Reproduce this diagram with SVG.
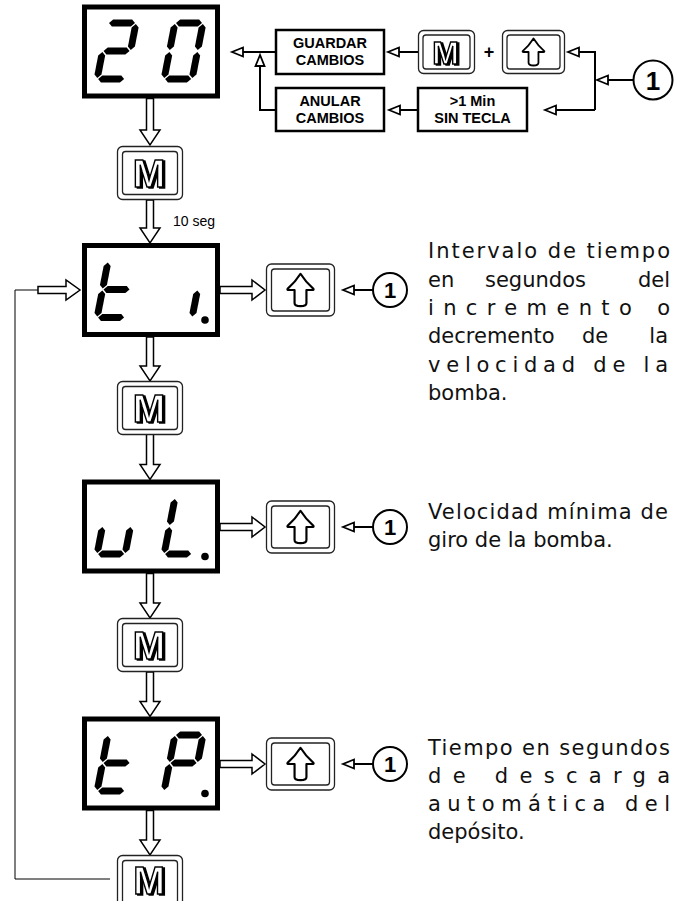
<svg xmlns="http://www.w3.org/2000/svg" xmlns:xlink="http://www.w3.org/1999/xlink" width="685" height="901" viewBox="0 0 685 901">
<style>
.disp{fill:#fff;stroke:#000;stroke-width:5}
.seg{fill:#000}
.harrow{fill:#fff;stroke:#000;stroke-width:1.5;stroke-linejoin:miter}
.bo{fill:#fff;stroke:#222;stroke-width:1.3}
.bi{fill:none;stroke:#222;stroke-width:1.3}
.mk{font-family:"Liberation Sans",Arial,sans-serif;font-weight:bold;fill:#fff;stroke:#000;stroke-width:1.4;text-anchor:middle}
.ua{fill:#fff;stroke:#000;stroke-width:2;stroke-linejoin:round}
.box{fill:#fff;stroke:#000;stroke-width:2.5}
.bt{font-family:"Liberation Sans",Arial,sans-serif;font-weight:bold;font-size:14.5px;text-anchor:middle;fill:#000}
.con{fill:none;stroke:#000;stroke-width:2}
.thin{fill:none;stroke:#000;stroke-width:1}
.circ{fill:#fff;stroke:#000;stroke-width:2}
.one{font-family:"Liberation Sans",Arial,sans-serif;font-weight:bold;text-anchor:middle;fill:#000}
.desc{font-family:"DejaVu Sans","Liberation Sans",sans-serif;font-size:21px;fill:#111}
.small{font-family:"Liberation Sans",Arial,sans-serif;font-size:14px;fill:#000}
</style>
<defs>
<polygon id="sh" points="1,0 4.5,-3.5 23.5,-3.5 27,0 23.5,3.5 4.5,3.5"/>
<polygon id="sv" points="0,1 3.5,4.5 3.5,23.5 0,27 -3.5,23.5 -3.5,4.5"/>
<path id="up" d="M0,-15 Q5,-7 12,-1 Q12.5,0 11,0 L5.5,0 L5.5,12 Q5.5,15 0,15 Q-5.5,15 -5.5,12 L-5.5,0 L-11,0 Q-12.5,0 -12,-1 Q-5,-7 0,-15 Z"/>
<filter id="emb" x="-20%" y="-20%" width="150%" height="150%">
<feOffset in="SourceAlpha" dx="2.4" dy="0.6" result="o"/>
<feMerge><feMergeNode in="o"/><feMergeNode in="SourceGraphic"/></feMerge>
</filter>
<marker id="ah" markerUnits="userSpaceOnUse" markerWidth="16" markerHeight="14" refX="13" refY="7" orient="auto" overflow="visible">
<path d="M13,7 L2,2.5 L2,11.5 Z" fill="#fff" stroke="#000" stroke-width="1.8"/>
</marker>
</defs>

<g id="connectors">
<path class="harrow" d="M146.5,98.5 L153.5,98.5 L153.5,130 L160,130 L150,145 L140,130 L146.5,130 Z"/>
<path class="harrow" d="M146.5,200 L153.5,200 L153.5,228 L160,228 L150,243 L140,228 L146.5,228 Z"/>
<path class="harrow" d="M146.5,337 L153.5,337 L153.5,366 L160,366 L150,381 L140,366 L146.5,366 Z"/>
<path class="harrow" d="M146.5,434 L153.5,434 L153.5,464.5 L160,464.5 L150,479.5 L140,464.5 L146.5,464.5 Z"/>
<path class="harrow" d="M146.5,573.5 L153.5,573.5 L153.5,603 L160,603 L150,618 L140,603 L146.5,603 Z"/>
<path class="harrow" d="M146.5,672 L153.5,672 L153.5,701.5 L160,701.5 L150,716.5 L140,701.5 L146.5,701.5 Z"/>
<path class="harrow" d="M146.5,810.5 L153.5,810.5 L153.5,840 L160,840 L150,855 L140,840 L146.5,840 Z"/>
<path class="harrow" d="M220,286.5 L252,286.5 L252,280 L265,290 L252,300 L252,293.5 L220,293.5 Z"/>
<path class="harrow" d="M220,523.5 L252,523.5 L252,517 L265,527 L252,537 L252,530.5 L220,530.5 Z"/>
<path class="harrow" d="M220,760.5 L252,760.5 L252,754 L265,764 L252,774 L252,767.5 L220,767.5 Z"/>
<polyline class="thin" points="110,879 15,879 15,290 38,290"/>
<path class="harrow" d="M38,286.5 L66,286.5 L66,280 L80,290 L66,300 L66,293.5 L38,293.5 Z"/>
<line class="con" x1="373" y1="290" x2="343" y2="290" marker-end="url(#ah)"/>
<line class="con" x1="373" y1="527" x2="343" y2="527" marker-end="url(#ah)"/>
<line class="con" x1="373" y1="764" x2="343" y2="764" marker-end="url(#ah)"/>
<line class="con" x1="275" y1="52" x2="232" y2="52" marker-end="url(#ah)"/>
<polyline class="con" points="275,110 260,110 260,55" marker-end="url(#ah)"/>
<line class="con" x1="418" y1="52" x2="388" y2="52" marker-end="url(#ah)"/>
<line class="con" x1="418" y1="110" x2="389" y2="110" marker-end="url(#ah)"/>
<polyline class="con" points="595,110 595,52 568,52" marker-end="url(#ah)"/>
<line class="con" x1="595" y1="110" x2="545" y2="110" marker-end="url(#ah)"/>
<line class="con" x1="633" y1="80" x2="597" y2="80" marker-end="url(#ah)"/>
</g>

<g id="display-20">
<rect class="disp" x="84.5" y="7" width="133" height="89"/>
<g class="seg" transform="translate(108,23) skewX(-11)">
<use xlink:href="#sh" x="0" y="0"/><use xlink:href="#sv" x="28" y="0"/><use xlink:href="#sh" x="0" y="28"/><use xlink:href="#sv" x="0" y="28"/><use xlink:href="#sh" x="0" y="56"/>
</g>
<g class="seg" transform="translate(175,23) skewX(-11)">
<use xlink:href="#sh" x="0" y="0"/><use xlink:href="#sv" x="28" y="0"/><use xlink:href="#sv" x="28" y="28"/><use xlink:href="#sh" x="0" y="56"/><use xlink:href="#sv" x="0" y="28"/><use xlink:href="#sv" x="0" y="0"/>
</g>
</g>

<g id="display-ti">
<rect class="disp" x="84.5" y="245.5" width="133" height="89"/>
<g class="seg" transform="translate(108,261.5) skewX(-11)">
<use xlink:href="#sv" x="0" y="0"/><use xlink:href="#sv" x="0" y="28"/><use xlink:href="#sh" x="0" y="28"/><use xlink:href="#sh" x="0" y="56"/>
</g>
<g class="seg" transform="translate(175,261.5) skewX(-11)">
<use xlink:href="#sv" x="28" y="28"/>
</g>
<circle class="seg" cx="205" cy="320" r="3.8"/>
</g>

<g id="display-uL">
<rect class="disp" x="84.5" y="482" width="133" height="89"/>
<g class="seg" transform="translate(108,498) skewX(-11)">
<use xlink:href="#sv" x="0" y="28"/><use xlink:href="#sh" x="0" y="56"/><use xlink:href="#sv" x="28" y="28"/>
</g>
<g class="seg" transform="translate(175,498) skewX(-11)">
<use xlink:href="#sv" x="0" y="0"/><use xlink:href="#sv" x="0" y="28"/><use xlink:href="#sh" x="0" y="56"/>
</g>
<circle class="seg" cx="205" cy="556.5" r="3.8"/>
</g>

<g id="display-tP">
<rect class="disp" x="84.5" y="719" width="133" height="89"/>
<g class="seg" transform="translate(108,735) skewX(-11)">
<use xlink:href="#sv" x="0" y="0"/><use xlink:href="#sv" x="0" y="28"/><use xlink:href="#sh" x="0" y="28"/><use xlink:href="#sh" x="0" y="56"/>
</g>
<g class="seg" transform="translate(175,735) skewX(-11)">
<use xlink:href="#sh" x="0" y="0"/><use xlink:href="#sv" x="28" y="0"/><use xlink:href="#sh" x="0" y="28"/><use xlink:href="#sv" x="0" y="0"/><use xlink:href="#sv" x="0" y="28"/>
</g>
<circle class="seg" cx="205" cy="793.5" r="3.8"/>
</g>

<g id="m-button-1">
<rect class="bo" x="117.5" y="146.5" width="65" height="53" rx="5"/>
<rect class="bi" x="122.5" y="151.5" width="55" height="43" rx="3"/>
<text class="mk" x="149" y="187" font-size="39" filter="url(#emb)">M</text>
</g>
<g id="m-button-2">
<rect class="bo" x="117.5" y="381.5" width="65" height="53" rx="5"/>
<rect class="bi" x="122.5" y="386.5" width="55" height="43" rx="3"/>
<text class="mk" x="149" y="422" font-size="39" filter="url(#emb)">M</text>
</g>
<g id="m-button-3">
<rect class="bo" x="117.5" y="618.5" width="65" height="53" rx="5"/>
<rect class="bi" x="122.5" y="623.5" width="55" height="43" rx="3"/>
<text class="mk" x="149" y="659" font-size="39" filter="url(#emb)">M</text>
</g>
<g id="m-button-4">
<rect class="bo" x="117.5" y="855.5" width="65" height="53" rx="5"/>
<rect class="bi" x="122.5" y="860.5" width="55" height="43" rx="3"/>
<text class="mk" x="149" y="894" font-size="38" filter="url(#emb)">M</text>
</g>

<g id="up-button-1">
<rect class="bo" x="266.5" y="264" width="68" height="52" rx="5"/>
<rect class="bi" x="271.5" y="269" width="58" height="42" rx="3"/>
<use class="ua" xlink:href="#up" transform="translate(300.5,290) scale(1.08)"/>
</g>
<g id="up-button-2">
<rect class="bo" x="266.5" y="501" width="68" height="52" rx="5"/>
<rect class="bi" x="271.5" y="506" width="58" height="42" rx="3"/>
<use class="ua" xlink:href="#up" transform="translate(300.5,527) scale(1.08)"/>
</g>
<g id="up-button-3">
<rect class="bo" x="266.5" y="738" width="68" height="52" rx="5"/>
<rect class="bi" x="271.5" y="743" width="58" height="42" rx="3"/>
<use class="ua" xlink:href="#up" transform="translate(300.5,764) scale(1.08)"/>
</g>

<g id="circle-1a"><circle class="circ" cx="390" cy="290" r="17"/><text class="one" x="390" y="298" font-size="22">1</text></g>
<g id="circle-1b"><circle class="circ" cx="390" cy="527" r="17"/><text class="one" x="390" y="535" font-size="22">1</text></g>
<g id="circle-1c"><circle class="circ" cx="390" cy="764" r="17"/><text class="one" x="390" y="772" font-size="22">1</text></g>
<g id="circle-1top"><circle class="circ" cx="653" cy="80" r="19.5"/><text class="one" x="653" y="89.5" font-size="26">1</text></g>

<g id="guardar">
<rect class="box" x="276" y="30" width="108" height="44"/>
<text class="bt" x="330" y="48">GUARDAR</text>
<text class="bt" x="330" y="65">CAMBIOS</text>
</g>
<g id="anular">
<rect class="box" x="276" y="88" width="108" height="43"/>
<text class="bt" x="330" y="106">ANULAR</text>
<text class="bt" x="330" y="123">CAMBIOS</text>
</g>
<g id="sin-tecla">
<rect class="box" x="418" y="88" width="109" height="43"/>
<text class="bt" x="472.5" y="106">&gt;1 Min</text>
<text class="bt" x="472.5" y="123">SIN TECLA</text>
</g>
<g id="m-button-top">
<rect class="bo" x="418.5" y="30.5" width="56" height="43" rx="5"/>
<rect class="bi" x="423" y="35" width="47" height="34" rx="3"/>
<text class="mk" x="445.5" y="64" font-size="32" filter="url(#emb)">M</text>
</g>
<text id="plus" class="one" x="489" y="58" font-size="18">+</text>
<g id="up-button-top">
<rect class="bo" x="502.5" y="30.5" width="62" height="43" rx="5"/>
<rect class="bi" x="507" y="35" width="53" height="34" rx="3"/>
<use class="ua" xlink:href="#up" transform="translate(533.5,52) scale(0.9)"/>
</g>

<text id="ten-seg" class="small" x="173" y="226">10 seg</text>

<g id="desc-1" class="desc">
<text x="428" y="258" textLength="242" lengthAdjust="spacing">Intervalo de tiempo</text>
<text x="428" y="287">en</text><text x="485" y="287">segundos</text><text x="670" y="287" text-anchor="end">del</text>
<text x="428" y="315" textLength="242" lengthAdjust="spacing">incremento o</text>
<text x="428" y="343">decremento</text><text x="582" y="343">de</text><text x="668" y="343" text-anchor="end">la</text>
<text x="428" y="372" textLength="240" lengthAdjust="spacing">velocidad de la</text>
<text x="428" y="400">bomba.</text>
</g>
<g id="desc-2" class="desc">
<text x="428" y="519" textLength="240" lengthAdjust="spacing">Velocidad mínima de</text>
<text x="428" y="547">giro de la bomba.</text>
</g>
<g id="desc-3" class="desc">
<text x="428" y="755" textLength="242" lengthAdjust="spacing">Tiempo en segundos</text>
<text x="428" y="783" textLength="242" lengthAdjust="spacing">de descarga</text>
<text x="428" y="811" textLength="242" lengthAdjust="spacing">automática del</text>
<text x="428" y="839">depósito.</text>
</g>
</svg>
